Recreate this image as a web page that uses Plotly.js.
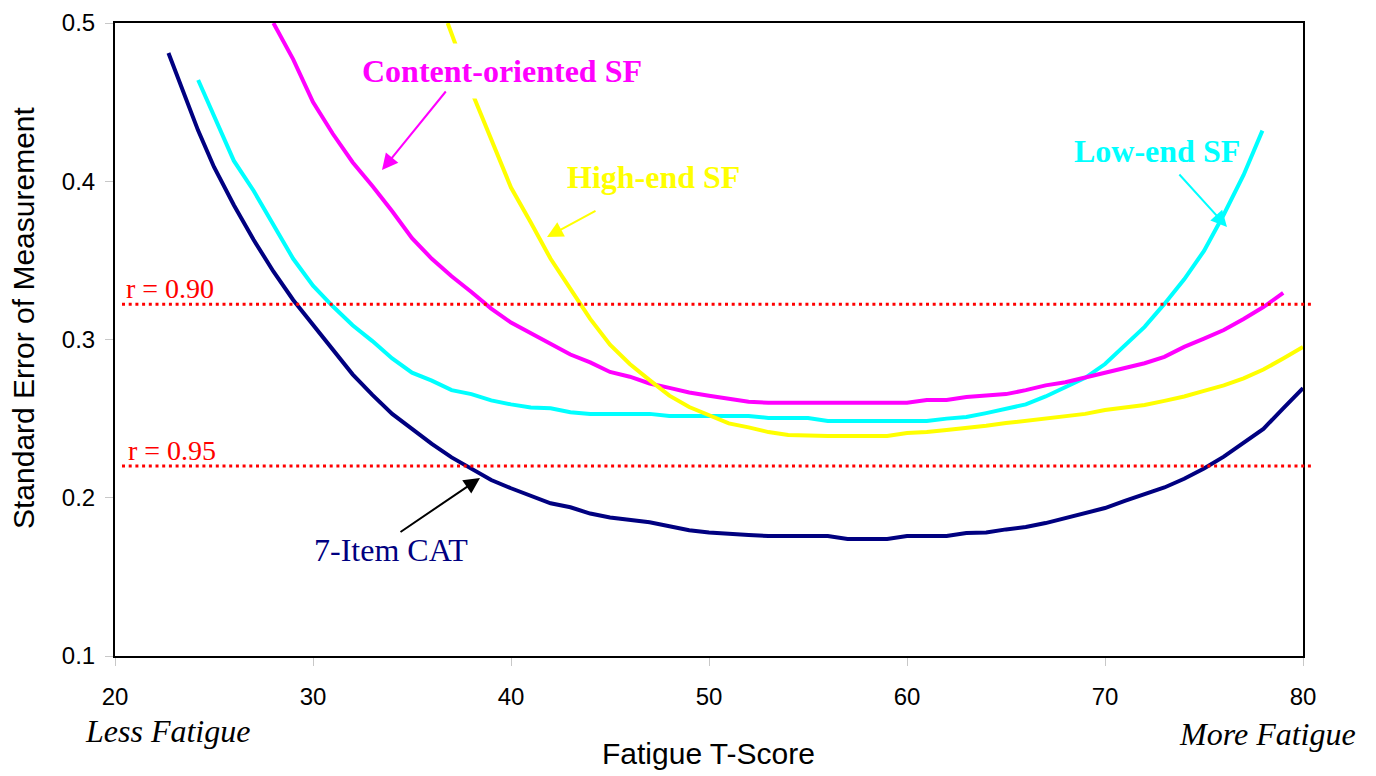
<!DOCTYPE html>
<html><head><meta charset="utf-8">
<script src="https://cdn.plot.ly/plotly-3.0.1.min.js"></script>
<style>html,body{margin:0;padding:0;background:#fff;} #chart{width:1376px;height:776px;}</style>
</head><body><div id="chart"></div>
<script>
// ---- data ----
const catX  = [22.7,23.5,24.2,25,26,27,28,29,30,31,32,33,34,35,36,37,38,39,40,41,42,43,44,45,46,47,48,49,50,51,52,53,54,55,56,57,58,59,60,61,62,63,64,65,66,67,68,69,70,71,72,73,74,75,76,77,78,79,80];
const catY  = [0.481,0.455,0.432,0.409,0.385,0.363,0.343,0.325,0.309,0.293,0.278,0.265,0.253,0.2435,0.234,0.2255,0.218,0.2112,0.206,0.201,0.1965,0.194,0.190,0.1875,0.186,0.1845,0.182,0.1795,0.178,0.1775,0.1765,0.1758,0.1758,0.1758,0.1758,0.174,0.174,0.174,0.1758,0.1758,0.1758,0.1777,0.178,0.180,0.1815,0.184,0.187,0.190,0.1935,0.198,0.202,0.2065,0.212,0.2185,0.226,0.235,0.2435,0.2565,0.2693];

const lowX  = [24.2,25,26,27,28,29,30,31,32,33,34,35,36,37,38,39,40,41,42,43,44,45,46,47,48,49,50,51,52,53,54,55,56,57,58,59,60,61,62,63,64,65,66,67,68,69,70,71,72,73,74,75,76,77,77.95];
const lowY  = [0.464,0.442,0.413,0.394,0.373,0.351,0.334,0.321,0.309,0.299,0.288,0.279,0.274,0.268,0.2655,0.2615,0.259,0.257,0.2565,0.254,0.253,0.253,0.253,0.253,0.2517,0.2517,0.2517,0.2517,0.2517,0.2504,0.2504,0.2504,0.2485,0.2485,0.2485,0.2485,0.2485,0.2485,0.250,0.251,0.2535,0.256,0.259,0.264,0.270,0.2758,0.2845,0.2965,0.308,0.3225,0.338,0.356,0.379,0.404,0.432];

const contX = [28,29,30,31,32,33,34,35,36,37,38,39,40,41,42,43,44,45,46,47,48,49,50,51,52,53,54,55,56,57,58,59,60,61,62,63,64,65,66,67,68,69,70,71,72,73,74,75,76,77,78,79];
const contY = [0.500,0.477,0.450,0.430,0.412,0.397,0.381,0.364,0.351,0.340,0.330,0.3195,0.3107,0.304,0.2975,0.2905,0.2855,0.2795,0.2765,0.2722,0.2694,0.2665,0.2645,0.2625,0.2607,0.260,0.260,0.260,0.260,0.260,0.260,0.260,0.260,0.2618,0.2618,0.2637,0.2645,0.2655,0.268,0.271,0.273,0.276,0.2795,0.2825,0.285,0.289,0.2953,0.3005,0.306,0.313,0.3205,0.3294];

const highX = [36.8,37.3,38,39,40,41,42,43,44,45,46,47,48,49,50,51,52,53,54,55,56,57,58,59,60,61,62,63,64,65,66,67,68,69,70,71,72,73,74,75,76,77,78,79,80];
const highY = [0.500,0.483,0.457,0.427,0.396,0.374,0.351,0.332,0.313,0.2967,0.2845,0.2743,0.2645,0.2573,0.252,0.247,0.2445,0.2415,0.2396,0.239,0.239,0.239,0.239,0.239,0.2409,0.2415,0.2428,0.244,0.2455,0.2472,0.2485,0.250,0.2512,0.253,0.2555,0.2572,0.2586,0.2612,0.264,0.2675,0.271,0.2755,0.281,0.288,0.2953];

const refLevels = [0.3222, 0.2201];
const refLabels = ['r = 0.90', 'r = 0.95'];
const xTicks = [20,30,40,50,60,70,80];
const yTicks = [0.1,0.2,0.3,0.4,0.5];

// ---- layout helpers ----
const L = 115, R = 73, T = 23, B = 120, W = 1376 - L - R, H = 776 - T - B;
const px = v => (v - L) / W;
const py = v => (776 - B - v) / H;

const serif = 'Liberation Serif, Times New Roman, serif';
const sans = 'Liberation Sans, Arial, sans-serif';

function line(x, y, color) {
  return {x, y, type: 'scatter', mode: 'lines', line: {color, width: 4}, hoverinfo: 'skip', showlegend: false};
}
const traces = [
  line(catX, catY, '#000080'),
  line(lowX, lowY, '#00FFFF'),
  line(contX, contY, '#FF00FF'),
  line(highX, highY, '#FFFF00')
];

function label(text, left, mid, color, size, extra) {
  return Object.assign({text, xref: 'paper', yref: 'paper', x: px(left), y: py(mid), xanchor: 'left', yanchor: 'middle',
    showarrow: false, font: {family: serif, size, color}}, extra || {});
}
function arrow(hx, hy, tx, ty, color) {
  return {text: '', xref: 'paper', yref: 'paper', x: px(hx), y: py(hy), ax: tx - hx, ay: ty - hy,
    showarrow: true, arrowhead: 2, arrowsize: 1.6, arrowwidth: 2, arrowcolor: color, standoff: 0, startstandoff: 0};
}

const annotations = [
  label('<b>Content-oriented SF</b>', 352, 71, '#FF00FF', 32, {bgcolor: '#ffffff', borderpad: 9}),
  label('<b>High-end SF</b>', 565, 177, '#FFFF00', 32),
  label('<b>Low-end SF</b>', 1072, 151, '#00FFFF', 32),
  label('7-Item CAT', 312, 550, '#000080', 32),
  label(refLabels[0], 124, 288, '#FF0000', 28),
  label(refLabels[1], 126, 451, '#FF0000', 28),
  label('<i>Less Fatigue</i>', 83, 731, '#000000', 32),
  label('<i>More Fatigue</i>', 1177, 734, '#000000', 32),
  // axis titles
  {text: 'Fatigue T-Score', xref: 'paper', yref: 'paper', x: px(708), y: py(754), xanchor: 'center', yanchor: 'middle',
    showarrow: false, font: {family: sans, size: 30, color: '#000'}},
  {text: 'Standard Error of Measurement', xref: 'paper', yref: 'paper', x: px(23), y: py(318), xanchor: 'center', yanchor: 'middle',
    textangle: -90, showarrow: false, font: {family: sans, size: 30, color: '#000'}},
  arrow(382, 170, 447, 90, '#FF00FF'),
  arrow(547, 237, 597, 210, '#FFFF00'),
  arrow(1227, 227, 1178, 173, '#00FFFF'),
  arrow(480, 478, 399, 533, '#000000')
];

const shapes = refLevels.map(v => ({type: 'line', xref: 'paper', yref: 'y', x0: px(122), x1: px(1314), y0: v, y1: v,
  line: {color: '#FF0000', width: 3, dash: '3px,3.7px'}, layer: 'above'}));

const layout = {
  width: 1376, height: 776,
  margin: {l: L, r: R, t: T, b: B},
  paper_bgcolor: '#ffffff', plot_bgcolor: '#ffffff',
  showlegend: false,
  xaxis: {range: [20, 80], tickvals: xTicks, ticktext: xTicks.map(String), showgrid: false, zeroline: false,
    showline: true, mirror: true, linecolor: '#000000', linewidth: 2,
    ticks: 'outside', ticklen: 8, tickwidth: 1, tickcolor: '#c8c8c8', ticklabelstandoff: 10,
    tickfont: {family: sans, size: 24, color: '#000'}},
  yaxis: {range: [0.1, 0.5], tickvals: yTicks, ticktext: yTicks.map(v => v.toFixed(1)), showgrid: false, zeroline: false,
    showline: true, mirror: true, linecolor: '#000000', linewidth: 2,
    ticks: 'outside', ticklen: 8, tickwidth: 1, tickcolor: '#c8c8c8', ticklabelstandoff: 5,
    tickfont: {family: sans, size: 24, color: '#000'}},
  annotations, shapes
};

Plotly.newPlot('chart', traces, layout, {displayModeBar: false, staticPlot: true});
</script>
</body></html>
